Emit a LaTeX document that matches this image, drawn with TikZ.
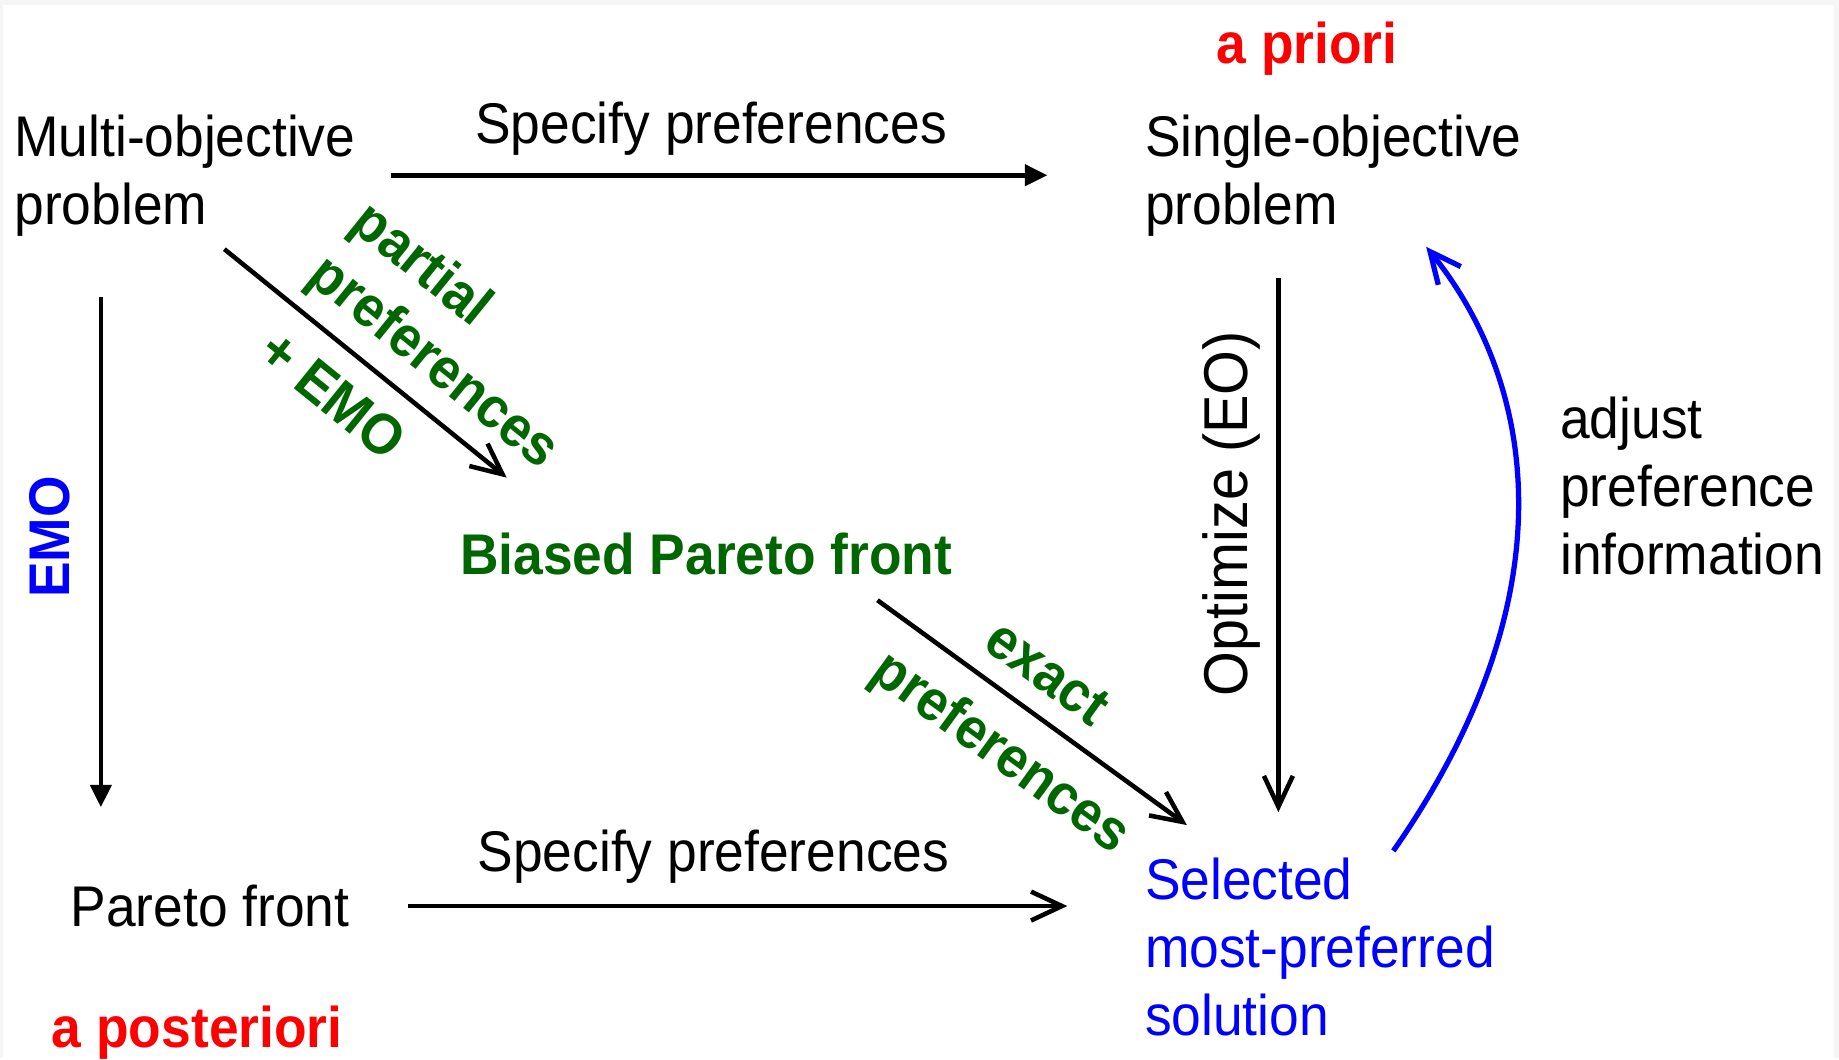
\documentclass[tikz,border=0pt]{standalone}
\usepackage{fontspec}
\setmainfont{Liberation Sans}[FakeStretch=0.93]
\usetikzlibrary{arrows.meta,calc}

\definecolor{prefgreen}{RGB}{0,102,0}
\definecolor{framegray}{RGB}{245,245,245}

\tikzset{
  lbl/.style={inner sep=0pt, align=left, font=\fontsize{32.7}{38.7}\selectfont},
  bflbl/.style={lbl, font=\fontsize{32.7}{38.7}\selectfont\bfseries},
  tri/.style={line width=2.6pt, -{Triangle[length=0.45cm,width=0.42cm]}},
  barb/.style={line width=2.6pt, -{Straight Barb[length=0.62cm,width=0.58cm]}},
}

\begin{document}
\begin{tikzpicture}[x=0.0235cm, y=-0.0235cm]

% frame
\fill[framegray] (0,0) rectangle (1568,902);
\fill[white] (2.6,4.3) rectangle (1564,902);

% texts (multi-line nodes sit on their last baseline)
\node[bflbl, red, anchor=base west] (apriori) at (1037,54) {a priori};
\node[lbl, anchor=base west] (moprob) at (12,191) {Multi-objective\\problem};
\node[lbl, anchor=base west] (spectop) at (405,122) {Specify preferences};
\node[lbl, anchor=base west] (soprob) at (976,191) {Single-objective\\problem};
\node[bflbl, prefgreen, anchor=base west] (biased) at (392,490) {Biased Pareto front};
\node[lbl, anchor=base west] (adjust) at (1330,490) {adjust\\preference\\information};
\node[lbl, font=\fontsize{35.3}{40}\selectfont, rotate=90] (optimize) at (1050,438) {Optimize (EO)};
\node[bflbl, blue, rotate=90] (emo) at (42,458) {EMO};
\node[lbl, anchor=base west] (pareto) at (60,790) {Pareto front};
\node[lbl, anchor=base west] (specbot) at (407,743) {Specify preferences};
\node[lbl, blue, anchor=base west] (selected) at (976,883) {Selected\\most-preferred\\solution};
\node[bflbl, red, anchor=base west] (aposteriori) at (44,893) {a posteriori};

% arrows
\draw[tri] (moprob.east) -- (soprob.west)
  [shorten <=0.7cm, shorten >=1.95cm];
\draw[tri] ($(moprob.south west)+(74,52)$) -- ($(pareto.north west)+(26,-66)$);
\draw[barb] ($(moprob.south east)+(-112,11)$) --
  node[bflbl, prefgreen, pos=0.645, sloped, above=0.26cm] {partial\\preferences}
  node[bflbl, prefgreen, pos=0.485, sloped, below=0.45cm] {+ EMO}
  ($(biased.north west)+(40,-47)$);
\draw[barb] ($(biased.south east)+(-64,21)$) --
  node[bflbl, prefgreen, pos=0.47, sloped, above=0.4cm] {exact}
  node[bflbl, prefgreen, pos=0.495, sloped, below=0.47cm] {preferences}
  ($(selected.north west)+(36,-28)$);
\draw[barb] ($(soprob.south west)+(114,36)$) -- ($(selected.north west)+(114,-39)$);
\draw[barb] (pareto.east) -- (pareto.east -| selected.west)
  [shorten <=1.175cm, shorten >=1.55cm];

% feedback loop
\draw[barb, blue, line width=3pt] ($(selected.north west)+(212,-6)$)
  .. controls +(157,-225) and +(89,110) .. ($(soprob.south west)+(240,9)$);

\end{tikzpicture}
\end{document}
